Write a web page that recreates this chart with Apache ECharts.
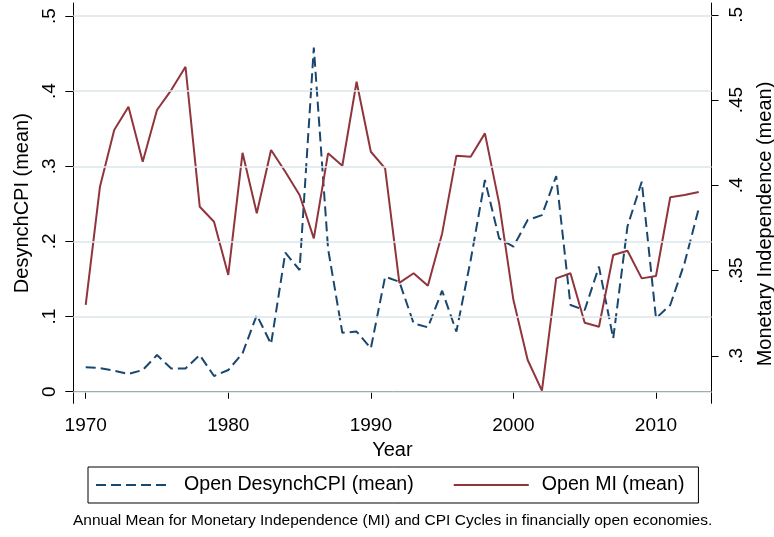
<!DOCTYPE html>
<html>
<head>
<meta charset="utf-8">
<script src="https://cdn.jsdelivr.net/npm/echarts@6/dist/echarts.min.js"></script>
<style>
  html, body { margin: 0; padding: 0; background: #fff; }
  #chart { width: 774px; height: 537px; }
</style>
</head>
<body>
<div id="chart"></div>
<script>
// Annual means, financially open economies
const years = [1970, 1971, 1972, 1973, 1974, 1975, 1976, 1977, 1978, 1979,
               1980, 1981, 1982, 1983, 1984, 1985, 1986, 1987, 1988, 1989,
               1990, 1991, 1992, 1993, 1994, 1995, 1996, 1997, 1998, 1999,
               2000, 2001, 2002, 2003, 2004, 2005, 2006, 2007, 2008, 2009,
               2010, 2011, 2012, 2013];

// Open DesynchCPI (mean) - left axis
const desynchCPI = [0.0325, 0.0315, 0.028, 0.0236, 0.0289, 0.0488, 0.031, 0.031, 0.0488, 0.0209,
                    0.0289, 0.0511, 0.102, 0.0635, 0.185, 0.162, 0.458, 0.19, 0.0785, 0.08,
                    0.0578, 0.153, 0.1464, 0.091, 0.0857, 0.1344, 0.08, 0.175, 0.2817, 0.204,
                    0.193, 0.2285, 0.235, 0.287, 0.1154, 0.1087, 0.1664, 0.071, 0.22, 0.2795,
                    0.0977, 0.1154, 0.171, 0.244];

// Open MI (mean) - right axis
const monetaryIndep = [0.3298, 0.3992, 0.4325, 0.4461, 0.4139, 0.4442, 0.4559, 0.4696, 0.3874, 0.3786,
                       0.3474, 0.4191, 0.3836, 0.4207, 0.408, 0.3943, 0.3689, 0.4188, 0.4115, 0.4608,
                       0.4197, 0.41, 0.3428, 0.3484, 0.3411, 0.3718, 0.4174, 0.4168, 0.4305, 0.3894,
                       0.3327, 0.2975, 0.2795, 0.3454, 0.3484, 0.3194, 0.317, 0.3591, 0.3616, 0.3454,
                       0.3468, 0.393, 0.3943, 0.3961];

const yearTicks = [1970, 1980, 1990, 2000, 2010];
const leftTicks = [0, 0.1, 0.2, 0.3, 0.4, 0.5];
const rightTicks = [0.3, 0.35, 0.4, 0.45, 0.5];

const seriesNames = ['Open DesynchCPI (mean)', 'Open MI (mean)'];
const caption = 'Annual Mean for Monetary Independence (MI) and CPI Cycles in financially open economies.';

const BLUE = '#1a476f';
const RED = '#90353b';
const AXIS = '#000';
const GRID = '#dce6ea';
const FONT = "'Liberation Sans', Arial, sans-serif";

const stataNum = v => String(+v.toFixed(2)).replace(/^0\./, '.');

const chart = echarts.init(document.getElementById('chart'), null, { renderer: 'canvas' });

chart.setOption({
  backgroundColor: '#fff',
  animation: false,
  textStyle: { fontFamily: FONT, color: '#000' },
  title: {
    text: caption,
    left: 73,
    top: 513,
    padding: 0,
    textStyle: { fontFamily: FONT, fontSize: 15.5, fontWeight: 'normal', color: '#000' }
  },
  grid: { left: 73.3, right: 62.4, top: 3, bottom: 133.7, containLabel: false },
  legend: {
    data: seriesNames,
    left: 88,
    top: 467,
    orient: 'horizontal',
    borderColor: '#000',
    borderWidth: 1,
    borderRadius: 0,
    padding: [8, 14, 8, 7],
    itemWidth: 75,
    itemHeight: 20,
    itemGap: 39,
    itemStyle: { opacity: 0 },
    textStyle: { fontSize: 19.6, color: '#000', fontFamily: FONT, padding: [0, 0, 0, 8] }
  },
  xAxis: {
    type: 'value',
    min: 1969.13,
    max: 2013.9,
    name: 'Year',
    nameLocation: 'middle',
    nameGap: 33,
    nameTextStyle: { fontSize: 20, color: '#000', fontFamily: FONT },
    axisLine: { show: true, lineStyle: { color: AXIS, width: 1 } },
    axisTick: { show: true, length: 7, customValues: yearTicks, lineStyle: { color: AXIS } },
    axisLabel: { customValues: yearTicks, fontSize: 19, color: '#000', margin: 13, formatter: v => String(v) },
    splitLine: { show: false }
  },
  yAxis: [
    {
      type: 'value',
      position: 'left',
      min: -0.0154,
      max: 0.5173,
      name: 'DesynchCPI (mean)',
      nameLocation: 'middle',
      nameGap: 40,
      nameTextStyle: { fontSize: 20, color: '#000', fontFamily: FONT },
      axisLine: { show: true, lineStyle: { color: AXIS, width: 1 } },
      axisTick: { show: true, length: 8, customValues: leftTicks, lineStyle: { color: AXIS } },
      axisLabel: { customValues: leftTicks, rotate: 90, fontSize: 19, color: '#000', margin: 14, formatter: v => stataNum(v) },
      splitLine: { show: false }
    },
    {
      type: 'value',
      position: 'right',
      min: 0.2721,
      max: 0.507,
      axisLine: { show: true, lineStyle: { color: AXIS, width: 1 } },
      axisTick: { show: true, length: 7, customValues: rightTicks, lineStyle: { color: AXIS } },
      axisLabel: { customValues: rightTicks, rotate: 90, fontSize: 19, color: '#000', margin: 16, formatter: v => stataNum(v) },
      splitLine: { show: false }
    }
  ],
  graphic: [
    {
      type: 'text',
      x: 765,
      y: 224,
      rotation: Math.PI / 2,
      style: {
        text: 'Monetary Independence (mean)',
        fontSize: 20,
        fontFamily: FONT,
        fill: '#000',
        align: 'center',
        verticalAlign: 'middle'
      }
    }
  ],
  series: [
    {
      // horizontal grid at the left-axis ticks, drawn first so it sits beneath the lines
      name: 'grid',
      type: 'line',
      yAxisIndex: 0,
      z: 1,
      symbol: 'none',
      silent: true,
      data: [],
      markLine: {
        silent: true,
        symbol: 'none',
        animation: false,
        label: { show: false },
        lineStyle: { color: GRID, width: 1.5, type: 'solid' },
        data: leftTicks.map(v => ({ yAxis: v }))
      }
    },
    {
      name: seriesNames[0],
      type: 'line',
      yAxisIndex: 0,
      symbol: 'none',
      z: 3,
      lineStyle: { color: BLUE, width: 2, type: [10, 5] },
      itemStyle: { color: BLUE },
      data: years.map((y, i) => [y, desynchCPI[i]])
    },
    {
      name: seriesNames[1],
      type: 'line',
      yAxisIndex: 1,
      symbol: 'none',
      z: 3,
      lineStyle: { color: RED, width: 2 },
      itemStyle: { color: RED },
      data: years.map((y, i) => [y, monetaryIndep[i]])
    }
  ]
});
</script>
</body>
</html>
